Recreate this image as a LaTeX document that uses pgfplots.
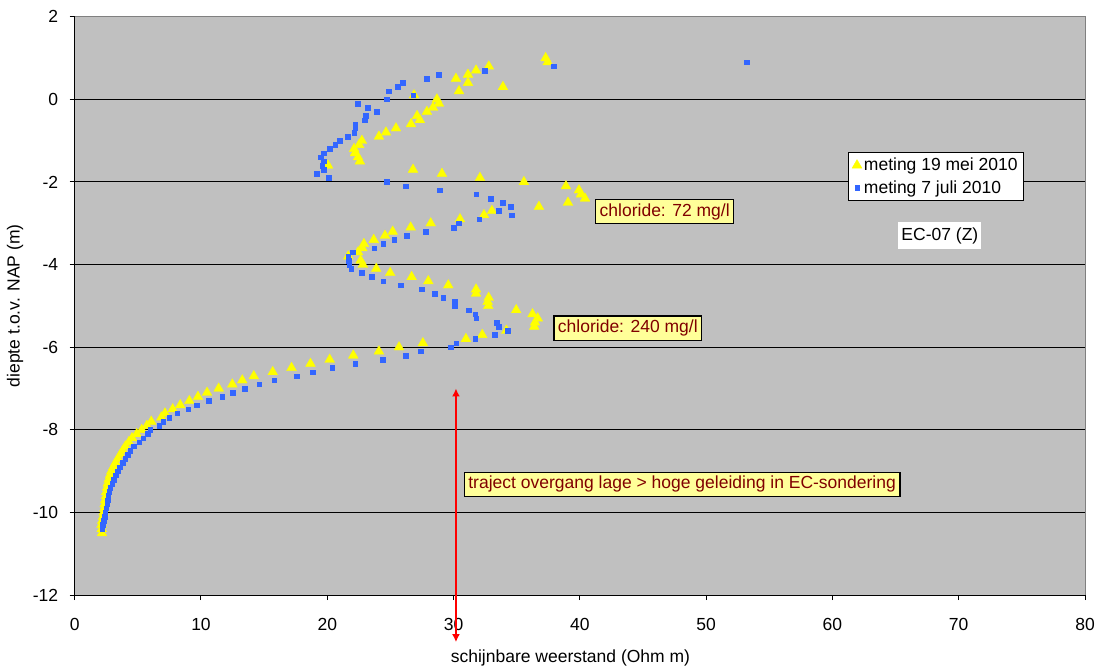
\documentclass[border=0pt]{standalone}
\usepackage{pgfplots}
\pgfplotsset{compat=1.18}
\usepackage{pgfplotstable}
\usepackage{fontspec}
\setmainfont{Liberation Sans}
\usetikzlibrary{arrows.meta,calc}
\definecolor{bgGrey}{HTML}{C0C0C0}
\definecolor{triYellow}{HTML}{FFFF00}
\definecolor{sqBlue}{HTML}{3366FF}
\definecolor{noteRed}{HTML}{800000}
\definecolor{noteFill}{HTML}{FFFF99}
\definecolor{frameGrey}{HTML}{808080}
\newcommand\fs{\fontsize{17.5bp}{21bp}\selectfont}

\pgfplotstableread{
x y
37.29 1.0
37.45 0.9
32.79 0.8
31.78 0.7
31.14 0.6
30.19 0.5
31.14 0.4
33.91 0.3
30.43 0.2
26.87 0.1
28.68 0.0
28.84 -0.1
28.37 -0.2
27.89 -0.3
27.11 -0.4
27.33 -0.5
26.63 -0.6
25.44 -0.7
24.65 -0.8
24.09 -0.9
22.74 -1.0
22.52 -1.1
22.12 -1.2
22.20 -1.3
22.44 -1.4
22.58 -1.5
20.06 -1.6
26.79 -1.7
29.08 -1.8
32.09 -1.9
35.57 -2.0
38.90 -2.1
39.93 -2.2
40.09 -2.3
40.41 -2.4
39.06 -2.5
36.76 -2.6
33.04 -2.7
32.41 -2.8
30.51 -2.9
28.19 -3.0
26.60 -3.1
25.18 -3.2
24.57 -3.3
23.68 -3.4
22.90 -3.5
22.77 -3.6
22.44 -3.7
21.66 -3.8
22.64 -3.9
22.82 -4.0
23.88 -4.1
24.98 -4.2
26.68 -4.3
28.00 -4.4
29.58 -4.5
31.78 -4.6
31.78 -4.7
32.78 -4.8
32.70 -4.9
32.75 -5.0
34.96 -5.1
36.25 -5.2
36.66 -5.3
36.45 -5.4
36.39 -5.5
34.18 -5.6
32.27 -5.7
30.98 -5.8
27.57 -5.9
25.68 -6.0
24.09 -6.1
22.06 -6.2
20.19 -6.3
18.67 -6.4
17.17 -6.5
15.68 -6.6
14.18 -6.7
13.27 -6.8
12.48 -6.9
11.40 -7.0
10.48 -7.1
9.76 -7.2
9.08 -7.3
8.36 -7.4
7.76 -7.5
7.15 -7.6
6.86 -7.7
6.06 -7.8
5.71 -7.9
5.31 -8.0
4.91 -8.1
4.54 -8.2
4.28 -8.3
4.01 -8.4
3.80 -8.5
3.61 -8.6
3.42 -8.7
3.22 -8.8
3.06 -8.9
2.90 -9.0
2.79 -9.1
2.69 -9.2
2.61 -9.3
2.56 -9.4
2.50 -9.5
2.48 -9.6
2.42 -9.7
2.37 -9.8
2.34 -9.9
2.29 -10.0
2.24 -10.1
2.18 -10.2
2.13 -10.3
2.14 -10.4
2.16 -10.5
}\meimeting

\pgfplotstableread{
x y
53.21 0.9
37.93 0.8
32.46 0.7
28.82 0.6
27.89 0.5
25.99 0.4
25.57 0.3
24.88 0.2
26.79 0.1
24.71 0.0
22.41 -0.1
23.20 -0.2
23.91 -0.3
23.06 -0.4
22.98 -0.5
22.20 -0.6
22.20 -0.7
22.12 -0.8
21.61 -0.9
20.98 -1.0
20.61 -1.1
20.21 -1.2
19.72 -1.3
19.48 -1.4
19.72 -1.5
19.58 -1.6
19.72 -1.7
19.18 -1.8
20.11 -1.9
24.71 -2.0
26.20 -2.1
28.90 -2.2
31.78 -2.3
32.96 -2.4
33.89 -2.5
34.52 -2.6
33.57 -2.7
34.60 -2.8
32.01 -2.9
30.41 -3.0
30.01 -3.1
27.79 -3.2
26.28 -3.3
25.28 -3.4
24.41 -3.5
23.70 -3.6
22.01 -3.7
21.64 -3.8
21.69 -3.9
21.72 -4.0
21.88 -4.1
22.72 -4.2
23.52 -4.3
24.41 -4.4
25.81 -4.5
27.47 -4.6
28.51 -4.7
29.16 -4.8
30.09 -4.9
30.09 -5.0
31.19 -5.1
31.70 -5.2
31.80 -5.3
33.41 -5.4
33.57 -5.5
34.29 -5.6
33.27 -5.7
31.70 -5.8
30.19 -5.9
29.79 -6.0
27.39 -6.1
26.20 -6.2
24.39 -6.3
22.20 -6.4
20.37 -6.5
18.86 -6.6
17.58 -6.7
15.78 -6.8
14.59 -6.9
13.48 -7.0
12.51 -7.1
11.69 -7.2
10.60 -7.3
9.68 -7.4
8.97 -7.5
8.10 -7.6
7.47 -7.7
7.00 -7.8
6.68 -7.9
5.96 -8.0
5.77 -8.1
5.41 -8.2
5.09 -8.3
4.69 -8.4
4.38 -8.5
4.20 -8.6
3.98 -8.7
3.80 -8.8
3.58 -8.9
3.40 -9.0
3.25 -9.1
3.09 -9.2
2.95 -9.3
2.82 -9.4
2.72 -9.5
2.66 -9.6
2.61 -9.7
2.56 -9.8
2.48 -9.9
2.42 -10.0
2.37 -10.1
2.29 -10.2
2.21 -10.3
2.17 -10.4
}\julimeting

\begin{document}
\begin{tikzpicture}[
  note/.style={draw=black, line width=1.2bp, fill=noteFill, text=noteRed, font=\fs, inner xsep=4bp, inner ysep=4bp}
]
\begin{axis}[
  scale only axis,
  width=1010.3bp, height=578.3bp,
  xmin=0, xmax=80, ymin=-12, ymax=2,
  xtick={0,10,...,80},
  ytick={-12,-10,...,0},
  extra y ticks={2},
  extra y tick style={grid=none},
  axis lines=left,
  axis line style={-, black, line width=1bp},
  axis background/.style={fill=bgGrey},
  ymajorgrids,
  grid style={black, line width=1bp},
  tick align=outside,
  major tick length=5bp,
  tick style={black, line width=1bp},
  tick label style={font=\fs},
  /pgf/number format/assume math mode=true,
  yticklabel style={xshift=-8bp},
  xticklabel style={yshift=-15bp},
  xlabel={schijnbare weerstand (Ohm m)},
  ylabel={diepte t.o.v. NAP (m)},
  label style={font=\fs},
  xlabel style={at={(rel axis cs:0.4907,-0.1084)}, anchor=center},
  ylabel style={at={(rel axis cs:-0.0591,0.5)}, anchor=center},
  clip=false,
  legend style={at={(rel axis cs:0.765,0.7666)}, anchor=north west, draw=black, line width=1bp, fill=white, font=\fs, inner xsep=4bp, inner ysep=4bp, row sep=4bp},
  legend cell align=left,
]
\addplot[only marks, mark=triangle*, mark size=5.7bp, mark options={fill=triYellow, draw=triYellow, line width=0.3bp}] table[x=x,y=y] {\meimeting};
\addlegendentry{meting 19 mei 2010}
\addplot[only marks, mark=square*, mark size=2.3bp, mark options={fill=sqBlue, draw=sqBlue, line width=0.3bp}] table[x=x,y=y] {\julimeting};
\addlegendentry{meting 7 juli 2010}

\draw[frameGrey, line width=1bp] (rel axis cs:0,1) -- (rel axis cs:1,1) -- (rel axis cs:1,0);
\coordinate (pSW) at (rel axis cs:0,0);
\coordinate (pNE) at (rel axis cs:1,1);

\draw[red, line width=2bp, {Latex[length=8bp,width=8bp]}-{Latex[length=8bp,width=8bp]}] (axis cs:30.19,-7.0) -- (axis cs:30.19,-13.14);

\node[note] at (axis cs:46.72,-2.72) {chloride: 72 mg/l};
\node[note] at (axis cs:43.8,-5.54) {chloride: 240 mg/l};
\node[note] at (axis cs:48.1,-9.32) {traject overgang lage > hoge geleiding in EC-sondering};
\node[fill=white, font=\fs, inner xsep=3bp, inner ysep=5bp] at (axis cs:68.51,-3.30) {EC-07 (Z)};
\end{axis}
\pgfresetboundingbox
\path ($(pSW)+(-74.7bp,-76bp)$) rectangle ($(pNE)+(14bp,16.7bp)$);
\end{tikzpicture}
\end{document}
